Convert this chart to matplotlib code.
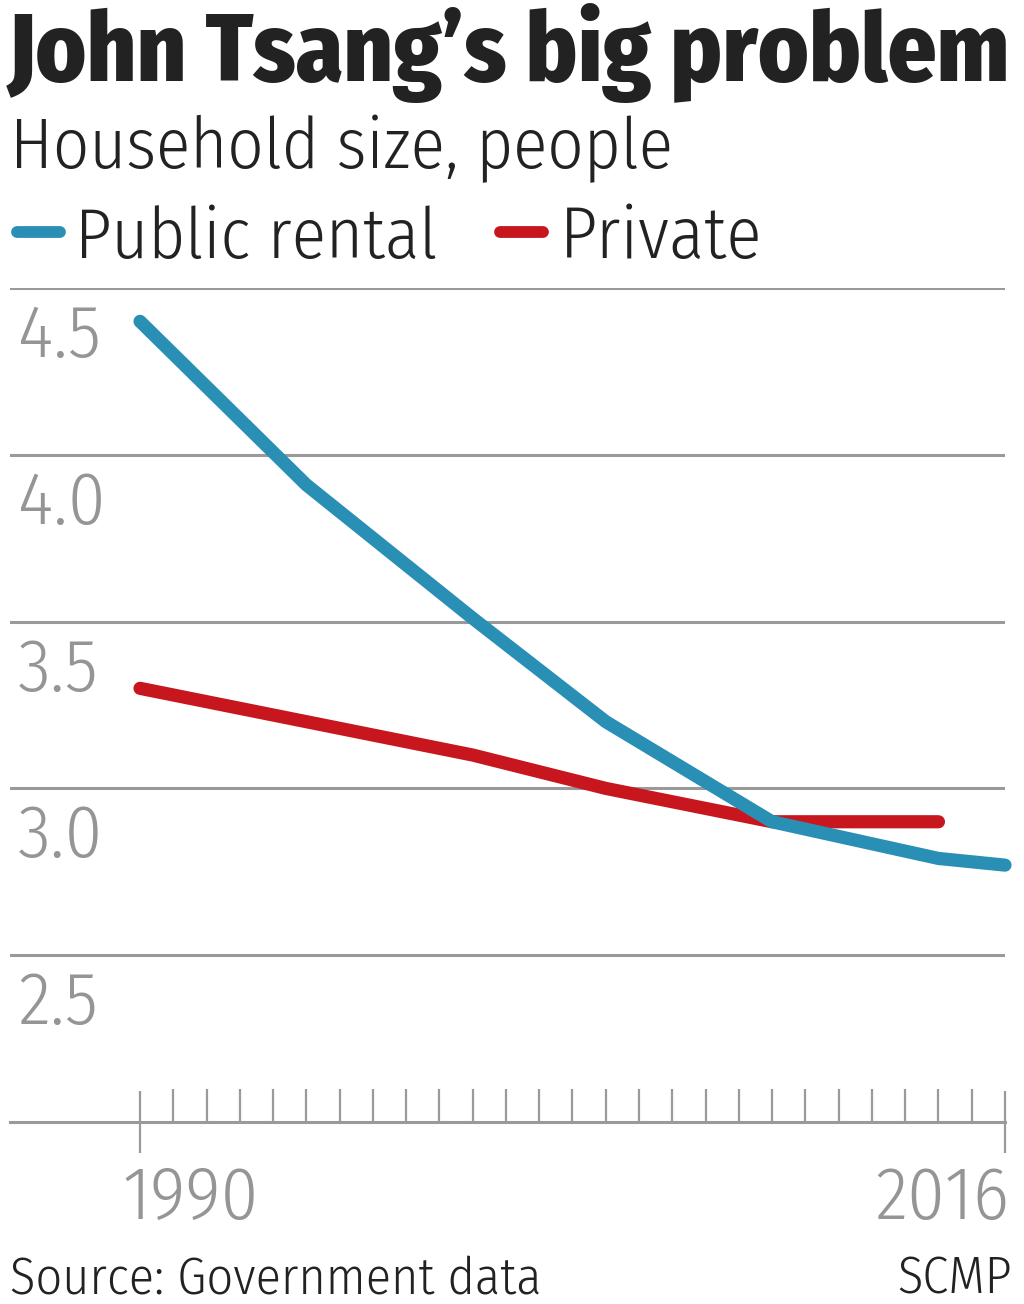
import matplotlib
matplotlib.use("Agg")
import matplotlib.pyplot as plt
from matplotlib.ticker import FixedLocator

# household size, people
years_public = [1990, 1995, 2000, 2004, 2009, 2014, 2016]
public_rental = [4.40, 3.91, 3.51, 3.20, 2.90, 2.79, 2.77]
years_private = [1990, 2000, 2004, 2009, 2014]
private = [3.30, 3.10, 3.00, 2.90, 2.90]
y_ticks = [2.5, 3.0, 3.5, 4.0, 4.5]
first_year, last_year = 1990, 2016

BLUE = "#2a8fb4"
RED = "#c8161f"
GRID = "#9a9a9a"
LABEL = "#959595"
INK = "#222222"
LIGHT = ["Fira Sans Condensed", "DejaVu Sans"]
HEAVY = ["Fira Sans Condensed", "DejaVu Sans"]

W, H = 1024, 1304
PT = 0.72  # points per pixel at dpi 100
fig = plt.figure(figsize=(W / 100, H / 100), dpi=100)
fig.patch.set_facecolor("white")


def px(x, y):
    return x / W, 1 - y / H


# axes: 2.0 at y=1122, 4.5 at y=288; 1990 at x=140, 2016 at x=1005
left, right = 10, 1005
top, bottom = 288, 1122
ax = fig.add_axes([left / W, 1 - bottom / H, (right - left) / W, (bottom - top) / H])
per_year = (1005 - 140) / (last_year - first_year)
ax.set_xlim(first_year - (140 - left) / per_year, last_year)
ax.set_ylim(2.0, 4.5)

for v in y_ticks:
    ax.axhline(v, color=GRID, lw=2.2, zorder=1)
    ax.annotate(f"{v:.1f}", xy=(0, v), xycoords=ax.get_yaxis_transform(),
                xytext=(8 * PT, -69 * PT), textcoords="offset points",
                ha="left", va="baseline", fontsize=54, color=LABEL,
                family=LIGHT, fontweight=300)

ax.plot(years_public, public_rental, color=BLUE, lw=9.5, solid_capstyle="round",
        solid_joinstyle="round", clip_on=False, zorder=3)
ax.plot(years_private, private, color=RED, lw=9.5, solid_capstyle="round",
        solid_joinstyle="round", clip_on=False, zorder=2)

for s in ["top", "right", "left"]:
    ax.spines[s].set_visible(False)
ax.spines["bottom"].set_color(GRID)
ax.spines["bottom"].set_linewidth(2.2)
ax.set_yticks([])

ax.xaxis.set_major_locator(FixedLocator([first_year, last_year]))
ax.xaxis.set_minor_locator(FixedLocator(list(range(first_year + 1, last_year))))
ax.tick_params(axis="x", which="major", direction="inout", length=45,
               width=1.6, color=GRID, labelbottom=False)
ax.tick_params(axis="x", which="minor", direction="in", length=24,
               width=1.6, color=GRID)
ax.annotate(str(first_year), xy=(first_year, 0), xycoords=ax.get_xaxis_transform(),
            xytext=(-18 * PT, -97 * PT), textcoords="offset points",
            ha="left", va="baseline", fontsize=54, color=LABEL,
            family=LIGHT, fontweight=300)
ax.annotate(str(last_year), xy=(last_year, 0), xycoords=ax.get_xaxis_transform(),
            xytext=(4 * PT, -97 * PT), textcoords="offset points",
            ha="right", va="baseline", fontsize=54, color=LABEL,
            family=LIGHT, fontweight=300)

# titles
fig.text(*px(8, 81), "John Tsang\u2019s big problem", fontsize=69,
         fontweight=800, color=INK, family=HEAVY, ha="left", va="baseline")
fig.text(*px(10, 168), "Household size, people", fontsize=51, fontweight=300,
         color=INK, family=LIGHT, ha="left", va="baseline")

# legend
leg_y = 232
fig.add_artist(plt.Line2D([17 / W, 60 / W], [1 - leg_y / H] * 2, color=BLUE,
                          lw=8.5, solid_capstyle="round"))
fig.text(*px(75, 258), "Public rental", fontsize=51, fontweight=300, color=INK,
         family=LIGHT, ha="left", va="baseline")
fig.add_artist(plt.Line2D([500 / W, 543 / W], [1 - leg_y / H] * 2, color=RED,
                          lw=8.5, solid_capstyle="round"))
fig.text(*px(560, 258), "Private", fontsize=52, fontweight=300, color=INK,
         family=LIGHT, ha="left", va="baseline")

# footer
fig.text(*px(10, 1293), "Source: Government data", fontsize=37.5, fontweight=300,
         color=INK, family=LIGHT, ha="left", va="baseline")
fig.text(*px(1012, 1293), "SCMP", fontsize=37.5, fontweight=300, color=INK,
         family=LIGHT, ha="right", va="baseline")

fig.savefig("out.png", dpi=100, facecolor="white")
